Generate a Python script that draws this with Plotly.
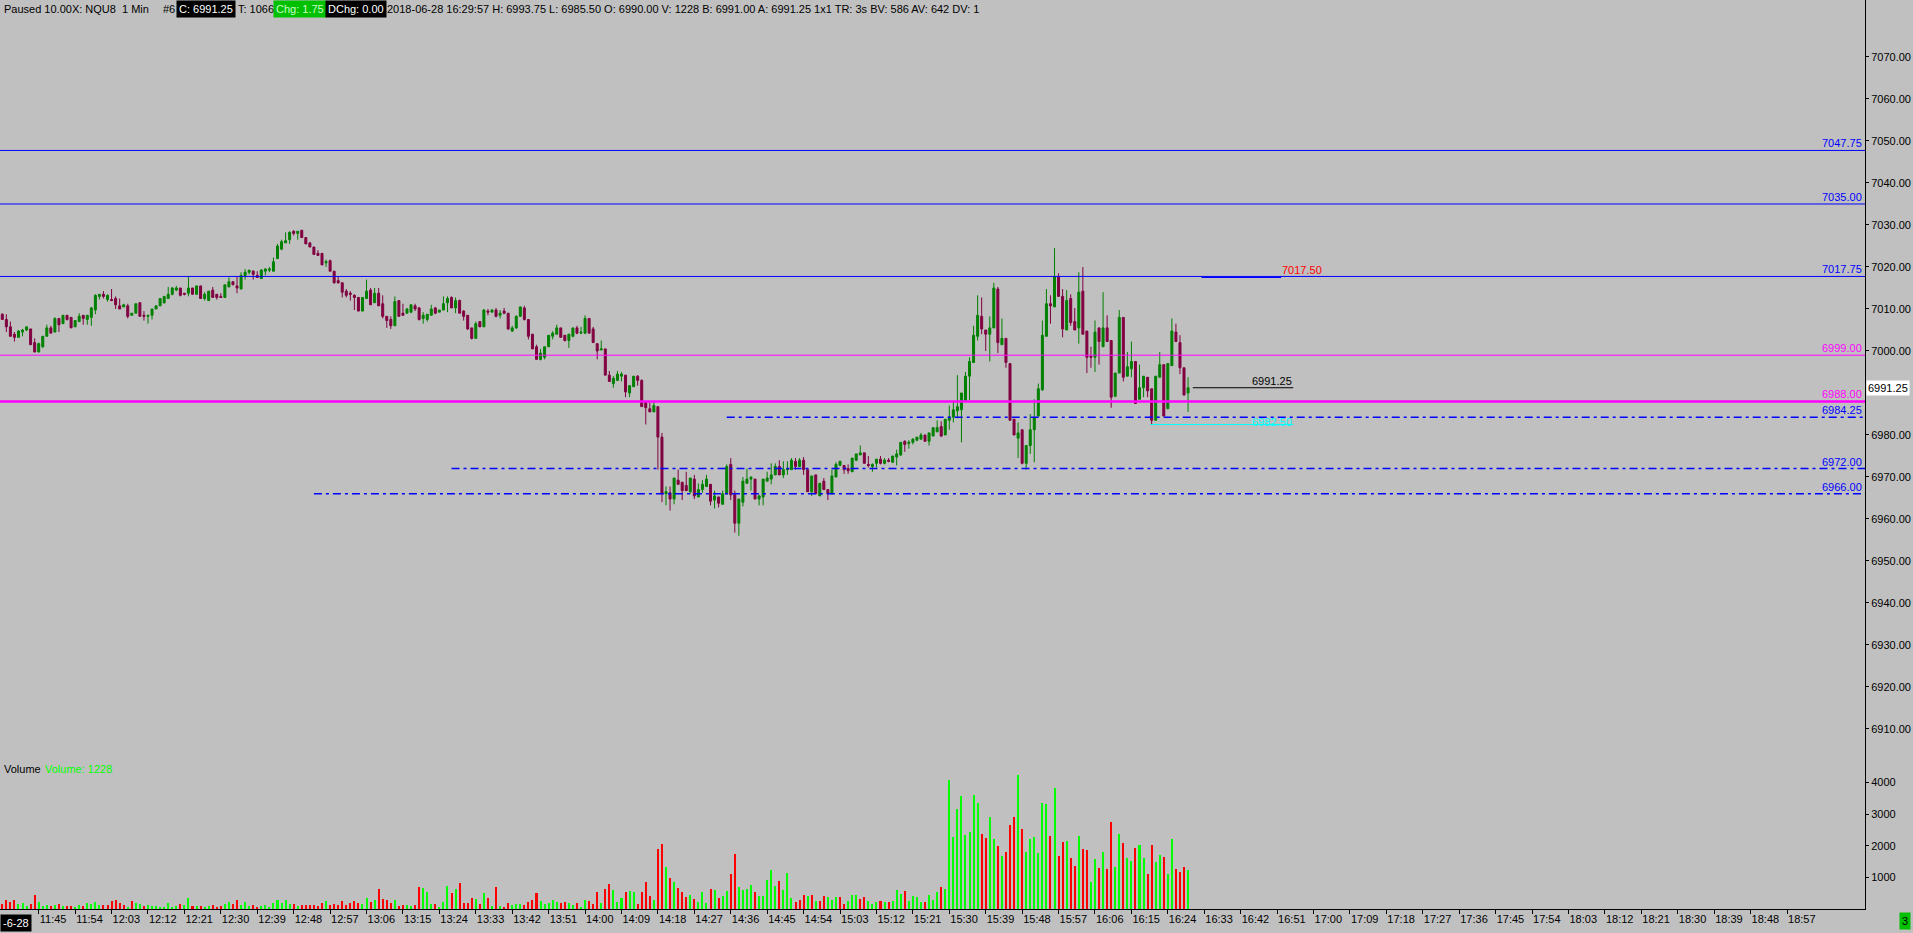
import pandas as pd
import plotly.graph_objects as go

FONT = "Liberation Sans"

# ---------------- data (NQU8, 1-minute bars, 2018-06-28 from 11:36) ----------------
opens = [
    7008.75, 7007.5, 7005.75, 7004.0, 7003.25, 7004.5, 7005.0, 7005.25, 7002.0, 6999.75,
    7001.0, 7003.5, 7005.5, 7004.5, 7007.75, 7006.5, 7008.5, 7008.0, 7005.75, 7007.0,
    7008.5, 7007.5, 7008.0, 7009.75, 7013.0, 7013.5, 7012.25, 7012.25, 7012.5, 7010.75,
    7010.5, 7010.75, 7008.5, 7009.0, 7011.5, 7008.5, 7008.25, 7008.5, 7010.0, 7010.75,
    7011.5, 7012.5, 7013.5, 7014.5, 7015.0, 7013.75, 7013.75, 7015.0, 7013.5, 7015.5,
    7012.5, 7012.0, 7014.5, 7013.5, 7013.0, 7012.75, 7015.25, 7016.5, 7015.5, 7014.75,
    7018.0, 7018.75, 7019.0, 7018.0, 7017.25, 7019.0, 7019.25, 7019.0, 7022.0, 7024.25,
    7025.75, 7026.5, 7028.5, 7028.0, 7028.75, 7027.0, 7025.75, 7024.75, 7023.25, 7023.25,
    7021.0, 7021.5, 7019.0, 7016.75, 7016.25, 7014.25, 7013.75, 7013.25, 7012.75, 7009.5,
    7012.5, 7014.5, 7011.5, 7013.75, 7011.25, 7008.25, 7007.5, 7006.0, 7012.0, 7009.0,
    7009.0, 7009.25, 7010.75, 7010.25, 7007.75, 7007.5, 7008.5, 7010.25, 7009.25, 7009.75,
    7011.5, 7012.75, 7010.25, 7012.0, 7009.5, 7008.5, 7005.5, 7003.0, 7007.0, 7005.75,
    7009.5, 7009.25, 7009.75, 7008.5, 7009.5, 7009.0, 7004.75, 7005.5, 7008.25, 7010.25,
    7007.5, 7004.0, 7001.0, 6998.0, 6998.5, 7001.0, 7003.5, 7004.0, 7005.5, 7003.75,
    7002.5, 7003.5, 7005.5, 7004.25, 7004.25, 7007.75, 7005.25, 7001.75, 7000.25, 7000.5,
    6994.25, 6992.25, 6993.0, 6994.0, 6994.25, 6990.0, 6991.5, 6994.0, 6993.0, 6987.75,
    6986.25, 6985.5, 6986.75, 6979.5, 6966.0, 6966.25, 6964.75, 6969.25, 6968.75, 6968.0,
    6966.5, 6969.5, 6965.25, 6967.0, 6967.75, 6968.25, 6964.5, 6965.25, 6963.5, 6966.0,
    6973.0, 6965.75, 6959.0, 6964.0, 6968.5, 6969.5, 6969.5, 6964.75, 6965.25, 6969.0,
    6969.5, 6970.5, 6972.5, 6970.5, 6971.75, 6971.75, 6973.75, 6972.5, 6974.0, 6971.75,
    6966.5, 6970.5, 6965.5, 6969.0, 6967.0, 6966.0, 6970.0, 6972.75, 6972.75, 6972.0,
    6971.25, 6974.0, 6975.25, 6975.75, 6973.0, 6972.5, 6973.25, 6974.25, 6973.25, 6974.0,
    6973.5, 6974.75, 6975.25, 6978.5, 6978.0, 6978.25, 6978.75, 6979.0, 6980.0, 6978.5,
    6979.75, 6980.75, 6982.0, 6980.0, 6983.5, 6984.25, 6985.75, 6986.0, 6988.25, 6994.0,
    6997.25, 7003.5, 7008.25, 7005.0, 7004.0, 7005.5, 7014.75, 7001.5, 7003.0, 6997.0,
    6983.75, 6979.25, 6981.25, 6973.25, 6977.5, 6981.25, 6984.5, 6990.75, 7003.5, 7011.25,
    7010.5, 7017.75, 7013.0, 7005.0, 7012.5, 7007.0, 7005.5, 7014.25, 7004.75, 6998.75,
    6998.5, 7005.5, 7001.0, 7005.5, 7002.5, 6989.25, 6994.75, 7008.0, 6994.0, 6995.75,
    6997.5, 6988.5, 6991.25, 6993.75, 6991.0, 6983.5, 6993.75, 6996.75, 6986.25, 6996.5,
    7004.5, 7002.0, 6996.0, 6990.0,
]
highs = [
    7009.0, 7008.75, 7007.0, 7004.5, 7005.0, 7005.25, 7005.75, 7005.25, 7003.0, 7002.0,
    7003.5, 7006.25, 7006.0, 7008.0, 7007.75, 7008.5, 7008.5, 7008.0, 7007.25, 7009.0,
    7008.5, 7008.5, 7010.5, 7013.5, 7013.5, 7014.25, 7013.5, 7014.75, 7013.0, 7012.5,
    7011.25, 7011.25, 7009.0, 7011.25, 7011.5, 7009.5, 7008.5, 7010.0, 7010.75, 7012.5,
    7013.0, 7015.25, 7015.25, 7015.5, 7015.0, 7013.75, 7017.75, 7015.0, 7015.5, 7015.5,
    7014.0, 7014.25, 7015.25, 7013.5, 7013.75, 7015.75, 7017.5, 7016.5, 7017.75, 7018.75,
    7019.5, 7019.25, 7019.25, 7019.0, 7019.5, 7019.75, 7020.0, 7022.25, 7025.5, 7026.5,
    7028.25, 7028.5, 7028.75, 7028.5, 7028.75, 7027.0, 7025.75, 7024.75, 7024.0, 7023.25,
    7021.75, 7021.75, 7019.0, 7017.75, 7016.25, 7014.75, 7014.25, 7013.5, 7012.75, 7012.75,
    7017.0, 7015.0, 7015.0, 7015.0, 7013.25, 7008.25, 7008.25, 7013.0, 7012.0, 7011.25,
    7010.25, 7011.0, 7011.25, 7010.5, 7009.25, 7008.75, 7011.0, 7010.5, 7009.75, 7013.0,
    7013.0, 7013.0, 7012.75, 7012.25, 7009.75, 7008.5, 7005.5, 7007.0, 7007.0, 7010.0,
    7010.0, 7010.0, 7010.25, 7009.75, 7010.25, 7009.0, 7006.0, 7008.5, 7010.5, 7010.75,
    7007.5, 7004.0, 7001.5, 7000.5, 7001.0, 7003.75, 7004.75, 7006.25, 7005.5, 7003.75,
    7004.0, 7005.5, 7006.0, 7005.75, 7008.5, 7007.75, 7005.75, 7001.75, 7002.5, 7000.5,
    6995.25, 6994.0, 6995.25, 6995.0, 6994.25, 6991.75, 6994.0, 6994.25, 6993.25, 6987.75,
    6987.75, 6988.0, 6986.75, 6980.5, 6967.75, 6967.75, 6969.75, 6971.75, 6968.75, 6971.25,
    6969.75, 6970.5, 6968.5, 6969.25, 6970.5, 6968.25, 6966.75, 6965.25, 6966.75, 6973.0,
    6974.5, 6966.75, 6964.75, 6970.0, 6972.0, 6970.0, 6969.5, 6965.75, 6969.5, 6971.25,
    6973.25, 6973.25, 6974.0, 6973.75, 6973.75, 6974.5, 6974.5, 6974.5, 6974.75, 6971.75,
    6970.25, 6970.5, 6968.5, 6969.75, 6967.0, 6971.75, 6973.5, 6973.75, 6972.75, 6973.0,
    6974.5, 6975.5, 6977.5, 6975.75, 6975.0, 6973.25, 6974.25, 6975.0, 6974.5, 6974.5,
    6975.0, 6976.5, 6978.25, 6978.75, 6978.75, 6979.25, 6979.5, 6980.5, 6980.0, 6980.5,
    6981.75, 6983.5, 6983.25, 6983.75, 6987.0, 6988.0, 6994.25, 6990.0, 6995.0, 6998.5,
    7006.0, 7013.25, 7012.75, 7005.0, 7008.25, 7016.25, 7015.25, 7007.75, 7003.0, 6997.0,
    6983.75, 6983.0, 6981.25, 6977.5, 6985.0, 6988.5, 6992.25, 7007.25, 7014.75, 7013.25,
    7024.5, 7018.5, 7014.75, 7014.5, 7013.5, 7010.25, 7018.75, 7020.0, 7004.75, 7001.0,
    7007.25, 7005.5, 7014.0, 7008.5, 7002.5, 6994.75, 7009.75, 7008.0, 6999.75, 7002.25,
    6997.5, 6996.75, 6994.0, 6993.75, 6991.0, 6994.0, 6999.75, 6996.75, 6997.0, 7007.75,
    7006.5, 7003.75, 6996.0, 6993.75,
]
lows = [
    7007.5, 7004.5, 7003.5, 7002.25, 7003.25, 7003.5, 7004.75, 7001.5, 6999.75, 6999.75,
    7000.75, 7003.5, 7004.25, 7004.5, 7004.5, 7006.5, 7007.25, 7005.5, 7005.75, 7007.0,
    7006.25, 7006.25, 7006.0, 7008.75, 7012.25, 7012.5, 7011.75, 7012.0, 7010.0, 7010.0,
    7010.5, 7007.75, 7008.5, 7009.0, 7008.25, 7007.25, 7006.5, 7007.5, 7010.0, 7010.75,
    7011.25, 7012.5, 7013.25, 7014.25, 7013.0, 7013.25, 7013.0, 7013.5, 7013.5, 7012.5,
    7012.0, 7012.0, 7012.75, 7012.25, 7012.75, 7012.75, 7015.25, 7015.75, 7013.75, 7014.75,
    7017.0, 7018.25, 7017.0, 7017.5, 7017.25, 7018.0, 7018.75, 7019.0, 7022.0, 7024.0,
    7025.75, 7025.5, 7027.5, 7026.5, 7027.0, 7025.5, 7024.75, 7023.0, 7022.75, 7020.5,
    7020.0, 7019.0, 7016.0, 7016.0, 7012.75, 7012.75, 7012.0, 7009.75, 7009.5, 7009.5,
    7012.5, 7011.0, 7011.5, 7010.75, 7007.75, 7005.5, 7005.25, 7006.0, 7008.25, 7008.5,
    7009.0, 7009.0, 7009.5, 7007.25, 7006.5, 7007.0, 7008.5, 7008.75, 7009.25, 7009.75,
    7009.25, 7010.25, 7009.0, 7009.0, 7007.25, 7005.0, 7002.75, 7003.0, 7005.75, 7005.75,
    7008.5, 7009.25, 7008.0, 7007.75, 7008.75, 7005.0, 7004.5, 7005.25, 7008.25, 7007.25,
    7002.75, 7000.5, 6998.0, 6997.75, 6998.0, 7001.0, 7002.75, 7004.0, 7003.25, 7002.25,
    7000.75, 7003.25, 7004.0, 7004.0, 7004.0, 7004.25, 7002.0, 6998.0, 7000.25, 6994.25,
    6992.75, 6991.25, 6993.0, 6992.75, 6989.0, 6989.0, 6991.5, 6991.75, 6986.75, 6982.5,
    6985.5, 6985.5, 6971.75, 6964.0, 6963.25, 6962.0, 6963.5, 6968.25, 6964.5, 6966.75,
    6966.0, 6964.75, 6965.25, 6966.25, 6967.75, 6963.25, 6962.5, 6962.75, 6963.5, 6966.0,
    6964.5, 6956.75, 6956.0, 6963.0, 6968.5, 6966.75, 6964.75, 6963.25, 6963.25, 6969.0,
    6968.25, 6970.5, 6970.5, 6969.75, 6970.5, 6971.75, 6971.75, 6972.5, 6970.5, 6966.5,
    6965.5, 6966.0, 6965.5, 6967.0, 6964.5, 6966.0, 6970.0, 6972.75, 6970.75, 6970.75,
    6971.25, 6973.75, 6975.25, 6973.25, 6972.25, 6971.25, 6972.25, 6973.0, 6973.0, 6973.5,
    6973.5, 6972.75, 6975.0, 6976.0, 6976.75, 6977.75, 6978.5, 6979.0, 6978.5, 6977.5,
    6979.75, 6980.75, 6979.5, 6980.0, 6981.25, 6983.0, 6984.0, 6978.25, 6988.25, 6988.25,
    6997.25, 7002.5, 7004.0, 7000.0, 6997.5, 7005.5, 6999.5, 7001.5, 6996.0, 6983.5,
    6980.0, 6974.5, 6973.0, 6971.75, 6975.5, 6973.5, 6984.5, 6990.5, 7003.5, 7006.5,
    7010.5, 7013.0, 7003.25, 7005.0, 7006.0, 7005.0, 7001.75, 7004.0, 6994.75, 6996.0,
    6995.0, 6996.75, 7001.0, 7002.25, 6986.5, 6989.0, 6994.75, 6992.75, 6994.0, 6993.75,
    6987.5, 6988.5, 6989.0, 6989.0, 6982.5, 6983.5, 6993.75, 6984.5, 6986.25, 6996.5,
    7002.25, 6994.5, 6989.5, 6985.5,
]
closes = [
    7007.5, 7005.75, 7003.5, 7003.25, 7004.75, 7005.0, 7005.75, 7001.5, 6999.75, 7001.75,
    7003.5, 7005.5, 7004.25, 7007.75, 7006.25, 7008.5, 7007.5, 7005.5, 7007.25, 7008.25,
    7007.75, 7008.5, 7010.25, 7013.25, 7013.5, 7013.0, 7013.25, 7012.0, 7011.0, 7010.0,
    7011.0, 7008.25, 7009.0, 7011.25, 7008.25, 7008.25, 7008.5, 7010.0, 7010.75, 7012.5,
    7013.0, 7013.5, 7015.0, 7015.0, 7013.25, 7013.5, 7015.0, 7013.5, 7015.5, 7012.5,
    7013.5, 7014.25, 7012.75, 7012.75, 7012.75, 7015.75, 7016.5, 7015.75, 7015.0, 7018.0,
    7018.75, 7019.25, 7018.25, 7017.5, 7019.25, 7019.5, 7019.5, 7021.25, 7025.0, 7026.0,
    7026.25, 7028.25, 7028.0, 7028.5, 7027.0, 7025.5, 7024.75, 7023.0, 7022.75, 7020.5,
    7021.25, 7019.0, 7016.25, 7016.25, 7014.0, 7013.25, 7013.5, 7012.75, 7009.5, 7012.75,
    7014.25, 7011.0, 7013.75, 7010.75, 7008.25, 7007.25, 7006.0, 7011.75, 7008.25, 7008.5,
    7010.0, 7011.0, 7010.0, 7007.5, 7008.5, 7008.75, 7010.0, 7009.0, 7009.75, 7011.25,
    7012.5, 7010.25, 7012.0, 7009.0, 7008.25, 7005.25, 7003.0, 7006.5, 7005.75, 7009.75,
    7009.25, 7009.75, 7008.25, 7009.0, 7009.0, 7005.25, 7005.5, 7008.25, 7010.5, 7007.5,
    7003.5, 7000.5, 6998.0, 6999.5, 7001.0, 7003.75, 7004.25, 7005.5, 7003.25, 7002.5,
    7004.0, 7005.5, 7004.25, 7004.5, 7007.75, 7004.25, 7002.0, 7000.0, 7000.5, 6994.25,
    6992.75, 6993.5, 6994.5, 6994.5, 6990.25, 6991.75, 6994.0, 6993.0, 6986.75, 6986.5,
    6985.5, 6987.0, 6979.5, 6966.0, 6966.5, 6964.75, 6969.75, 6968.25, 6966.75, 6966.75,
    6969.75, 6965.5, 6967.0, 6968.25, 6969.5, 6964.25, 6965.5, 6963.75, 6966.0, 6972.5,
    6965.75, 6959.0, 6964.75, 6969.0, 6969.5, 6970.0, 6964.75, 6965.5, 6969.5, 6969.75,
    6970.5, 6972.5, 6970.5, 6971.75, 6972.0, 6974.0, 6972.5, 6974.0, 6971.75, 6966.5,
    6970.25, 6966.0, 6968.5, 6967.0, 6966.0, 6970.25, 6973.0, 6973.75, 6971.75, 6971.5,
    6974.5, 6975.5, 6975.75, 6973.25, 6972.75, 6973.0, 6974.25, 6973.25, 6974.0, 6973.75,
    6975.0, 6975.5, 6978.25, 6977.75, 6978.25, 6979.0, 6979.5, 6980.0, 6978.5, 6980.5,
    6981.75, 6981.75, 6979.75, 6983.75, 6984.25, 6986.0, 6986.75, 6990.0, 6994.0, 6997.5,
    7003.75, 7008.5, 7005.25, 7004.0, 7005.5, 7015.0, 7002.0, 7003.0, 6997.25, 6983.5,
    6980.0, 6980.5, 6973.25, 6977.5, 6981.25, 6984.0, 6991.0, 7003.75, 7011.25, 7010.75,
    7017.75, 7013.0, 7005.25, 7012.0, 7006.75, 7005.0, 7014.0, 7004.0, 6998.5, 6998.5,
    7004.5, 7002.25, 7005.5, 7002.25, 6989.0, 6994.75, 7008.0, 6993.75, 6996.25, 6997.5,
    6987.5, 6991.25, 6994.0, 6990.5, 6983.5, 6994.0, 6996.75, 6984.5, 6997.0, 7004.75,
    7002.25, 6996.0, 6989.5, 6991.25,
]
volumes = [
    170, 295, 232, 295, 170, 200, 105, 170, 455, 232,
    105, 137, 105, 137, 170, 105, 105, 105, 74, 137,
    105, 200, 170, 232, 137, 137, 137, 264, 295, 200,
    137, 74, 264, 200, 170, 105, 137, 105, 105, 74,
    74, 200, 74, 105, 170, 137, 359, 105, 105,
    105, 74, 105, 137, 74, 105, 170, 232, 170, 295,
    137, 232, 105, 137, 74, 105, 137, 74, 200, 295,
    200, 295, 170, 170, 105, 137, 137, 137, 137, 105,
    200, 264, 137, 170, 137, 264, 137, 200, 264, 200,
    170, 359, 232, 295, 643, 327, 295, 200, 295, 105,
    137, 137, 105, 137, 707, 675, 548, 170, 170, 74,
    232, 738, 517, 643, 833, 200, 200, 359, 327, 170,
    517, 359, 105, 707, 105, 74, 200, 137, 170,
    170, 137, 232, 295, 517, 264, 170, 200, 295, 232,
    200, 232, 200, 137, 200, 74, 295, 264, 170, 548,
    190, 643, 801, 612, 232, 359, 548, 580, 548, 170,
    548, 865, 422, 295, 1909, 2068, 1340, 992, 865, 675,
    548, 390, 454, 327, 232, 548, 200, 643, 612, 359,
    422, 580, 1118, 1751, 707, 612, 643, 770, 548, 422,
    422, 928, 1245, 738, 897, 612, 1150, 359, 232,
    295, 454, 422, 454, 264, 264, 422, 390, 295, 390,
    390, 170, 264, 454, 454, 327, 390, 264, 170, 232,
    264, 232, 232, 264, 612, 485, 580, 264, 422, 390,
    232, 232, 454, 295, 548, 707, 643, 4093, 2289, 3175,
    3586, 2352, 2447, 3618, 3365, 2384, 2257, 2922, 2226, 2004,
    1688, 1814, 2669, 2922, 4251, 2542, 1814, 2226, 2289, 1783,
    3365, 3333, 2321, 3840, 1688, 2131, 2162, 1624, 1371, 2321,
    1909, 1878, 865, 1593, 1308, 1814, 1276, 2764, 1340, 2384,
    2099, 1624, 1530, 1941, 2036, 1624, 1118, 2036, 1498, 1719,
    1656, 1118, 2226, 1276, 1181, 1340, 1228,
]
# volume bar direction: r = down tick, g = up tick
vol_dir = list(
    "rrrrgggrrg" "ggrgrgrrgg" "rggggrrrrr" "rgrggrgggg" "ggggrggrg"
    "rggrrrggrr" "gggrrggggg" "gggrgrrrrr" "rgrrrrrrrr" "ggrgrrrrgr"
    "rggrrgggrg" "ggrgrrrrgr" "grgrgrrgg" "grrrrggggg" "rrggrggrrr"
    "grrgggrggr" "rrrgrrgrgr" "rrgrgggrgr" "ggrrggggrg" "ggggrgggr"
    "rrgrgrrggg" "rrgggrrggg" "rgrgggrggg" "grgggrgggg" "gggggrrggr"
    "grrrgrgggg" "ggrgrrgrrg" "rrggrgrrgg" "rggrggrrgg" "rggrrrg"
)

# horizontal reference levels
full_levels = [7047.75, 7035.00, 7017.75, 6999.00, 6988.00]
full_colors = ["#0000FF", "#0000FF", "#0000FF", "#FF00FF", "#FF00FF"]
full_widths = [1, 1, 1, 1, 2.5]
dd_levels = [6984.25, 6972.00, 6966.00]
dd_starts = ["2018-06-28 14:35", "2018-06-28 13:27", "2018-06-28 12:53"]
dd_colors = ["#0000FF", "#0000FF", "#0000FF"]

x_ticks = pd.date_range("2018-06-28 11:45", "2018-06-28 18:57", freq="9min")
price_ticks = [6910, 6920, 6930, 6940, 6950, 6960, 6970, 6980, 7000,
               7010, 7020, 7030, 7040, 7050, 7060, 7070]
vol_ticks = [1000, 2000, 3000, 4000]

# ---------------- figure ----------------
n = len(closes)
times = pd.date_range("2018-06-28 11:36", periods=n, freq="min")
vmap = {"r": "#FF0000", "g": "#00FF00"}
vcols = [vmap[c] for c in vol_dir[:len(volumes)]]

X0 = "2018-06-28 11:35:26"
X1 = "2018-06-28 19:16:16"
W, H = 1913, 933
ML, MR, MT, MB = 0, 48, 0, 24
PW, PH = W - ML - MR, H - MT - MB

fig = go.Figure()
fig.add_trace(go.Candlestick(
    x=times, open=opens, high=highs, low=lows, close=closes,
    increasing=dict(line=dict(color="#008000", width=1), fillcolor="#008000"),
    decreasing=dict(line=dict(color="#800040", width=1), fillcolor="#800040"),
    whiskerwidth=0, hoverinfo="skip", showlegend=False, yaxis="y",
))
fig.add_trace(go.Bar(
    x=times, y=volumes, width=30000, marker=dict(color=vcols, line=dict(width=0)),
    hoverinfo="skip", showlegend=False, yaxis="y2",
))

shapes = []
for lv, c, w in zip(full_levels, full_colors, full_widths):
    shapes.append(dict(type="line", xref="paper", yref="y", x0=0, x1=1, y0=lv, y1=lv,
                       line=dict(color=c, width=w)))
for lv, s, c in zip(dd_levels, dd_starts, dd_colors):
    shapes.append(dict(type="line", xref="x", yref="y", x0=s, x1=X1, y0=lv, y1=lv,
                       line=dict(color=c, width=1.5, dash="8px,4px,3px,4px")))
# short marker lines
shapes.append(dict(type="line", xref="x", yref="y", x0="2018-06-28 16:32:20", x1="2018-06-28 16:52",
                   y0=7017.50, y1=7017.50, line=dict(color="#0000FF", width=1)))
shapes.append(dict(type="line", xref="x", yref="y", x0="2018-06-28 16:30:10", x1="2018-06-28 16:55",
                   y0=6991.25, y1=6991.25, line=dict(color="#000000", width=1)))
shapes.append(dict(type="line", xref="x", yref="y", x0="2018-06-28 16:19:40", x1="2018-06-28 16:55",
                   y0=6982.50, y1=6982.50, line=dict(color="#00FFFF", width=1)))

ann = []
def px(x):
    return x / PW

# right-side level labels
for lv, c in zip(full_levels + dd_levels, full_colors + dd_colors):
    ann.append(dict(xref="paper", yref="y", x=px(1863), y=lv, xanchor="right", yanchor="bottom",
                    text="%.2f" % lv, showarrow=False, font=dict(family=FONT, size=11, color=c),
                    borderpad=0, yshift=0))
# mid-chart marker labels
ann.append(dict(xref="x", yref="y", x="2018-06-28 16:52", y=7017.50, xanchor="left", yanchor="bottom",
                text="7017.50", showarrow=False, font=dict(family=FONT, size=11, color="#FF0000"), borderpad=0))
ann.append(dict(xref="x", yref="y", x="2018-06-28 16:55", y=6991.25, xanchor="right", yanchor="bottom",
                text="6991.25", showarrow=False, font=dict(family=FONT, size=11, color="#000000"), borderpad=0))
ann.append(dict(xref="x", yref="y", x="2018-06-28 16:55", y=6982.50, xanchor="right", yanchor="middle",
                text="6982.50", showarrow=False, font=dict(family=FONT, size=11, color="#00FFFF"),
                borderpad=0, yshift=2))
# last price box on axis
ann.append(dict(xref="paper", yref="y", x=1, y=6991.25, xanchor="left", yanchor="middle", xshift=1,
                text="6991.25", showarrow=False, bgcolor="#FFFFFF",
                font=dict(family=FONT, size=11, color="#000000"), borderpad=1))

# header
header = [
    (1, "Paused 10.00X: NQU8\u00a0\u00a01 Min", "#000000", None),
    (160, "#6", "#000000", None),
    (176, "C: 6991.25", "#FFFFFF", "#000000"),
    (235, "T: 1066", "#000000", None),
    (273, "Chg: 1.75", "#C8FFC8", "#00C000"),
    (325, "DChg: 0.00", "#FFFFFF", "#000000"),
    (384, "2018-06-28 16:29:57 H: 6993.75 L: 6985.50 O: 6990.00 V: 1228 B: 6991.00 "
          "A: 6991.25 1x1 TR: 3s BV: 586 AV: 642 DV: 1", "#000000", None),
]
for x, t, fc, bg in header:
    d = dict(xref="paper", yref="paper", x=px(x), y=1, xanchor="left", yanchor="top",
             text=t, showarrow=False, font=dict(family=FONT, size=11, color=fc), borderpad=2)
    if bg:
        d["bgcolor"] = bg
    ann.append(d)

# volume panel labels
ann.append(dict(xref="paper", yref="paper", x=px(2), y=1 - 769 / PH, xanchor="left", yanchor="middle",
                text="Volume", showarrow=False, font=dict(family=FONT, size=11, color="#000000")))
ann.append(dict(xref="paper", yref="paper", x=px(43), y=1 - 769 / PH, xanchor="left", yanchor="middle",
                text="Volume: 1228", showarrow=False, font=dict(family=FONT, size=11, color="#00FF00")))
# date stub bottom-left and status box bottom-right
ann.append(dict(xref="paper", yref="paper", x=0, y=0, xanchor="left", yanchor="top", yshift=-5,
                text="-6-28", showarrow=False, bgcolor="#000000",
                font=dict(family=FONT, size=11, color="#FFFFFF"), borderpad=2))
ann.append(dict(xref="paper", yref="paper", x=px(1899), y=0, xanchor="left", yanchor="top", yshift=-3,
                text="3", showarrow=False, bgcolor="#00C000",
                font=dict(family=FONT, size=11, color="#000000"), borderpad=2))

fig.update_layout(
    width=W, height=H,
    margin=dict(l=ML, r=MR, t=MT, b=MB, pad=0),
    paper_bgcolor="#C0C0C0", plot_bgcolor="#C0C0C0",
    font=dict(family=FONT, size=11, color="#000000"),
    showlegend=False, bargap=0, hovermode=False,
    shapes=shapes, annotations=ann,
    xaxis=dict(
        type="date", range=[X0, X1], showgrid=False, zeroline=False,
        showline=True, linecolor="#000000", linewidth=1,
        ticks="outside", ticklen=4, tickcolor="#000000", tickangle=0,
        tickmode="array", tickvals=list(x_ticks), ticktext=[t.strftime("%H:%M") for t in x_ticks],
        ticklabelposition="outside right", tickfont=dict(family=FONT, size=11, color="#000000"),
        rangeslider=dict(visible=False), fixedrange=True,
    ),
    yaxis=dict(
        side="right", range=[6867.14, 7083.57], showgrid=False, zeroline=False,
        showline=True, linecolor="#000000", linewidth=1,
        ticks="outside", ticklen=3, tickcolor="#000000",
        tickmode="array", tickvals=price_ticks, ticktext=["%.2f" % v for v in price_ticks],
        tickfont=dict(family=FONT, size=11, color="#000000"), fixedrange=True,
    ),
    yaxis2=dict(
        overlaying="y", side="right", range=[0, PH / 0.0316], showgrid=False, zeroline=False,
        showline=False, ticks="outside", ticklen=3, tickcolor="#000000",
        tickmode="array", tickvals=vol_ticks, ticktext=[str(v) for v in vol_ticks],
        tickfont=dict(family=FONT, size=11, color="#000000"), fixedrange=True,
    ),
)

fig.write_html(
    "out.html",
    config={"displayModeBar": False},
    post_script="document.body.style.margin='0';document.body.style.overflow='hidden';"
                "document.body.style.background='#C0C0C0';",
)
